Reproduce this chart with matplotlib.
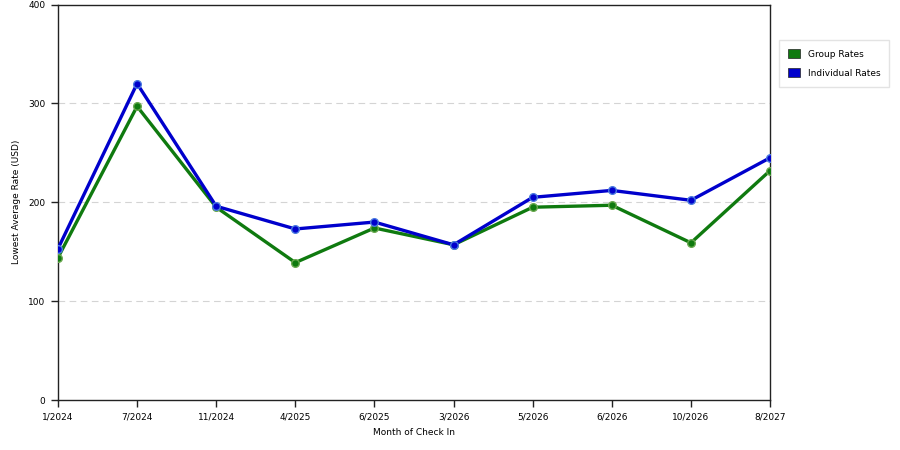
import matplotlib
matplotlib.use("Agg")
import matplotlib.pyplot as plt
from matplotlib.patches import Patch

months = ["1/2024", "7/2024", "11/2024", "4/2025", "6/2025", "3/2026",
          "5/2026", "6/2026", "10/2026", "8/2027"]
group_rates = [144, 297, 195, 139, 174, 157, 195, 197, 159, 232]
individual_rates = [153, 320, 196, 173, 180, 157, 205, 212, 202, 245]
y_ticks = [0, 100, 200, 300, 400]

green = "#0f7a0f"
blue = "#0000cc"

plt.rcParams["font.family"] = ["DejaVu Sans"]

fig = plt.figure(figsize=(9, 4.5), dpi=100)
ax = fig.add_axes([0.0644, 0.111, 0.7912, 0.879])

x = list(range(len(months)))
ax.plot(x, group_rates, color=green, lw=2.4, marker="o", ms=5.5,
        markerfacecolor=green, markeredgecolor="#6aa84f", markeredgewidth=1,
        zorder=3, solid_joinstyle="round")
ax.plot(x, individual_rates, color=blue, lw=2.4, marker="o", ms=5.5,
        markerfacecolor=blue, markeredgecolor="#4a7ae0", markeredgewidth=1,
        zorder=4, solid_joinstyle="round")

ax.set_xlim(0, len(months) - 1)
ax.set_ylim(0, 400)
ax.set_xticks(x)
ax.set_xticklabels(months)
ax.set_yticks(y_ticks)
ax.tick_params(axis="both", labelsize=6.5, length=5, width=1, color="#222222",
               direction="out", pad=4)
for y in y_ticks[1:-1]:
    ax.axhline(y, color="#d4d4d4", lw=0.8, ls=(0, (6, 4)), zorder=1)
for s in ax.spines.values():
    s.set_color("#222222")
    s.set_linewidth(1)

ax.set_xlabel("Month of Check In", fontsize=6.5, labelpad=5)
ax.set_ylabel("Lowest Average Rate (USD)", fontsize=6.5, labelpad=5)

handles = [Patch(facecolor=green, edgecolor="#222222", lw=0.5, label="Group Rates"),
           Patch(facecolor=blue, edgecolor="#222222", lw=0.5, label="Individual Rates")]
leg = fig.legend(handles=handles, loc="upper left", bbox_to_anchor=(0.8655, 0.912),
                 fontsize=6.5, frameon=True, fancybox=False, handlelength=1.3,
                 handleheight=1.3, borderpad=1.0, labelspacing=1.0, handletextpad=0.9,
                 borderaxespad=0)
leg.get_frame().set_edgecolor("#dddddd")
leg.get_frame().set_linewidth(1)

fig.savefig("out.png", dpi=100)
